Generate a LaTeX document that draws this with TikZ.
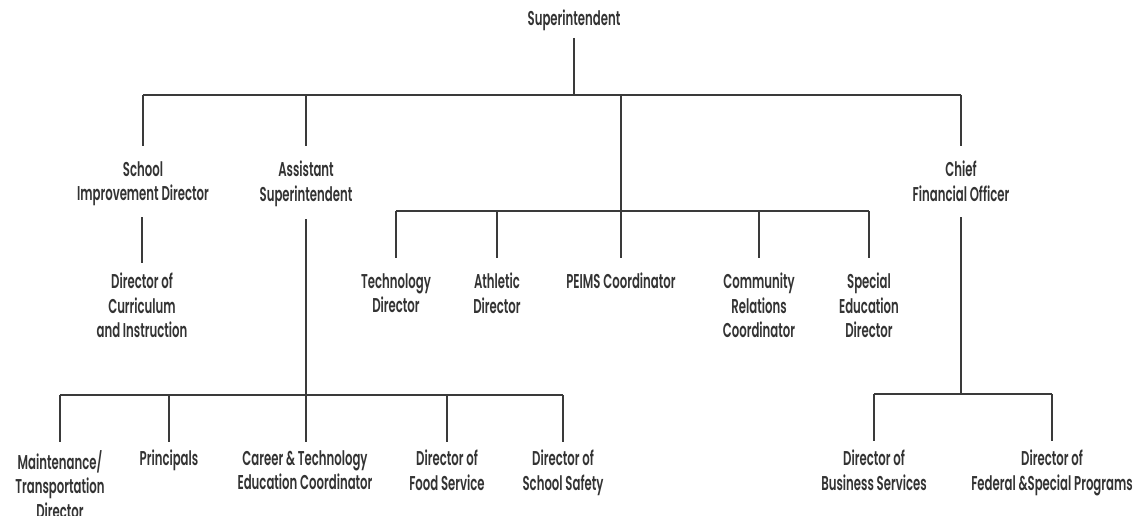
\documentclass[tikz,border=0pt]{standalone}
\usepackage{fontspec}
\newfontfamily\orgfont[FakeStretch=0.585]{Poppins SemiBold}
\definecolor{txtgray}{HTML}{333333}
\definecolor{linegray}{HTML}{3A3A3A}
\begin{document}
\begin{tikzpicture}[x=1pt,y=-1pt,
  lbl/.style={anchor=north, align=center, inner sep=0pt, text=txtgray,
    font=\orgfont\fontsize{20}{24.5}\selectfont},
  link/.style={draw=linegray, line width=1.3pt}]
\useasboundingbox (0,0) rectangle (1138,516);

% levels of the horizontal bars
\coordinate (topbar) at (0,95);
\coordinate (midbar) at (0,211);
\coordinate (lowbar) at (0,395);
\coordinate (rbar)   at (0,394);

% positions
\node[lbl] (sup)   at (574,10)  {Superintendent};
\node[lbl] (sid)   at (143,161) {School\\Improvement Director};
\node[lbl] (asup)  at (306,161) {Assistant\\Superintendent};
\node[lbl] (cfo)   at (961,161) {Chief\\Financial Officer};
\node[lbl] (dci)   at (142,273) {Director of\\Curriculum\\and Instruction};
\node[lbl] (tech)  at (396,273) {Technology\\Director};
\node[lbl] (ath)   at (497,273) {Athletic\\Director};
\node[lbl] (peims) at (621,273) {PEIMS Coordinator};
\node[lbl] (comm)  at (759,273) {Community\\Relations\\Coordinator};
\node[lbl] (sped)  at (869,273) {Special\\Education\\Director};
\node[lbl] (mtd)   at (60,450)  {Maintenance/\\Transportation\\Director};
\node[lbl] (prin)  at (169,450) {Principals};
\node[lbl] (cte)   at (305,450) {Career \& Technology\\Education Coordinator};
\node[lbl] (food)  at (447,450) {Director of\\Food Service};
\node[lbl] (safe)  at (563,450) {Director of\\School Safety};
\node[lbl] (bus)   at (874,450) {Director of\\Business Services};
\node[lbl] (fed)   at (1052,450) {Director of\\Federal \&Special Programs};

% superintendent to first level
\draw[link] (sup |- 0,38) -- (sup |- topbar);
\draw[link] (sid |- topbar) -- (cfo |- topbar);
\foreach \n in {sid,asup,cfo}
  \draw[link] (\n |- topbar) -- (\n |- 0,146);

% directors under the superintendent
\draw[link] (peims |- topbar) -- (peims |- 0,258);
\draw[link] (tech |- midbar) -- (sped |- midbar);
\foreach \n in {tech,ath,comm,sped}
  \draw[link] (\n |- midbar) -- (\n |- 0,258);

% school improvement branch
\draw[link] (dci |- 0,217) -- (dci |- 0,263);

% assistant superintendent branch
\draw[link] (asup |- 0,219) -- (asup |- 0,442);
\draw[link] (mtd |- lowbar) -- (safe |- lowbar);
\foreach \n in {mtd,prin,food,safe}
  \draw[link] (\n |- lowbar) -- (\n |- 0,442);

% chief financial officer branch
\draw[link] (cfo |- 0,217) -- (cfo |- rbar);
\draw[link] (bus |- rbar) -- (fed |- rbar);
\foreach \n in {bus,fed}
  \draw[link] (\n |- rbar) -- (\n |- 0,441);
\end{tikzpicture}
\end{document}
